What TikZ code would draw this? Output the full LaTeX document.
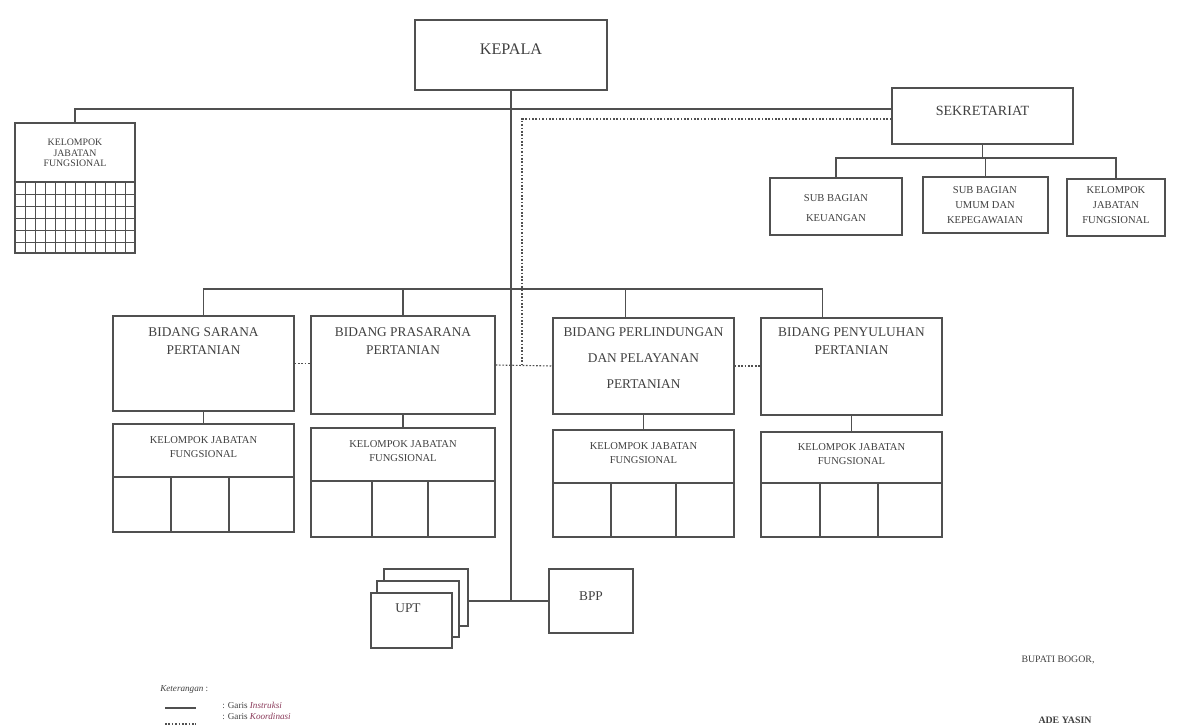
\documentclass[tikz,border=0pt]{standalone}
\usepackage{fontspec}
\setmainfont{Liberation Serif}
\usetikzlibrary{fit,positioning,calc}
\definecolor{linec}{HTML}{505050}
\definecolor{txtc}{HTML}{404040}
\definecolor{keyred}{HTML}{8A3A5A}

\begin{document}
\begin{tikzpicture}[x=0.025cm, y=-0.025cm,
    box/.style={draw=linec, line width=0.8pt, inner sep=0pt, fill=white, text=txtc, align=center},
    instr/.style={draw=linec, line width=0.8pt},
    koord/.style={draw=linec, line width=0.8pt, dash pattern=on 1.2pt off 1.2pt},
    txt/.style={text=txtc, align=center, inner sep=0pt},
    bigtxt/.style={font=\fontsize{11.5}{14}\selectfont},
    sektxt/.style={font=\fontsize{10}{12}\selectfont},
    bidtxt/.style={txt, font=\fontsize{9.5}{12.8}\selectfont},
    kjtxt/.style={font=\fontsize{7.5}{10}\selectfont},
    subtxt/.style={txt, font=\fontsize{7.5}{10.8}\selectfont},
    lefttxt/.style={txt, font=\fontsize{7}{7.4}\selectfont},
    legtxt/.style={txt, font=\fontsize{6.5}{8}\selectfont},
    signtxt/.style={txt, font=\fontsize{7}{8}\selectfont}]
    \fill[white] (0,0) rectangle (1177,728);
    \useasboundingbox (0,0) rectangle (1177,728);

    % kepala dan sekretariat
    \node[box, bigtxt, fit={(415,20) (607,90)}] (kepala) {KEPALA};
    \node[box, sektxt, fit={(892,88) (1073,144)}] (sekre) {SEKRETARIAT};
    \node[box, fit={(770,178) (902,235)}] (keu) {};
    \node[box, fit={(923,177) (1048,233)}] (umum) {};
    \node[box, fit={(1067,179) (1165,236)}] (kjfS) {};
    \node[subtxt] (keuT) at (836,208) {SUB BAGIAN\\[3pt]KEUANGAN};
    \node[subtxt] (umumT) at (985,205) {SUB BAGIAN\\UMUM DAN\\KEPEGAWAIAN};
    \node[subtxt] (kjfST) at (1116,205) {KELOMPOK\\JABATAN\\FUNGSIONAL};

    % kelompok jabatan fungsional kiri
    \node[box, fit={(15,123) (135,182)}] (kjfL) {};
    \node[lefttxt] (kjfLT) at (75,153) {KELOMPOK\\JABATAN\\FUNGSIONAL};
    \node[box, fit={(15,182) (135,253)}] (kjfLg) {};
    \foreach \gx in {25,35,...,125}
        \draw[instr, line width=0.6pt] (\gx,182) -- (\gx,253);
    \foreach \gy in {194,206,...,242}
        \draw[instr, line width=0.6pt] (15,\gy) -- (135,\gy);

    % bidang
    \node[box, fit={(113,316) (294,411)}] (sar) {};
    \node[box, fit={(311,316) (495,414)}] (pra) {};
    \node[box, fit={(553,318) (734,414)}] (per) {};
    \node[box, fit={(761,318) (942,415)}] (pen) {};
    \node[bidtxt, below=0.3cm of sar.north] (sarT) {BIDANG SARANA\\PERTANIAN};
    \node[bidtxt, below=0.3cm of pra.north] (praT) {BIDANG PRASARANA\\PERTANIAN};
    \node[bidtxt, below=0.25cm of per.north] (perT) {BIDANG PERLINDUNGAN\\[5.5pt]DAN PELAYANAN\\[5.5pt]PERTANIAN};
    \node[bidtxt, below=0.25cm of pen.north] (penT) {BIDANG PENYULUHAN\\PERTANIAN};

    \foreach \nm/\xl/\xr/\yt/\yd/\yb/\ca/\cb in
        {sar/113/294/424/477/532/171/229, pra/311/495/428/481/537/372/428,
         per/553/734/430/483/537/611/676, pen/761/942/432/483/537/820/878} {
        \node[box, kjtxt, fit={(\xl,\yt) (\xr,\yd)}] (\nm-kj) {KELOMPOK JABATAN\\FUNGSIONAL};
        \node[box, fit={(\xl,\yd) (\xr,\yb)}] (\nm-kc) {};
        \draw[instr] (\ca,\yd) -- (\ca,\yb) (\cb,\yd) -- (\cb,\yb);
    }

    % upt dan bpp
    \node[box, fit={(384,569) (468,626)}] (uptA) {};
    \node[box, fit={(377,581) (459,637)}] (uptB) {};
    \node[box, fit={(371,593) (452,648)}] (uptC) {};
    \node[bidtxt] (uptT) at (408,608) {UPT};
    \node[box, font=\fontsize{9.5}{12}\selectfont, fit={(549,569) (633,633)}] (bpp) {BPP};

    % garis instruksi
    \coordinate (topbar) at (0,109);
    \coordinate (sekbar) at (0,158);
    \coordinate (bidbar) at (0,289);
    \coordinate (perTop) at ($(per.north)+(-18,0)$);
    \coordinate (penTop) at ($(pen.north)+(-29,0)$);
    \draw[instr] (kjfL.north) |- (sekre.west |- topbar);
    \draw[instr] (kepala.south) -- (kepala.south |- bpp.west);
    \draw[instr] (uptA.east |- bpp.west) -- (bpp.west);
    \draw[instr] (sekre.south) -- (sekre.south |- sekbar);
    \draw[instr] (keu.north) |- (kjfS.north |- sekbar) -- (kjfS.north);
    \draw[instr] (umum.north) -- (umum.north |- sekbar);
    \draw[instr] (sar.north) |- (penTop |- bidbar) -- (penTop);
    \draw[instr] (pra.north) -- (pra.north |- bidbar);
    \draw[instr] (perTop) -- (perTop |- bidbar);
    \foreach \nm in {sar,pra,per,pen}
        \draw[instr] (\nm.south) -- (\nm-kj.north);

    % garis koordinasi
    \coordinate (kx) at (522,119);
    \draw[koord] (sekre.west |- kx) -- (kx) -- (kx |- per.west);
    \draw[koord] (sar.east) -- (sar.east -| pra.west);
    \draw[koord] (pra.east) -- (per.west);
    \draw[koord] (per.east) -- (per.east -| pen.west);

    % keterangan
    \node[legtxt, anchor=west] (ket) at (160,689) {\textit{Keterangan} :};
    \coordinate (ins1) at (165,708);
    \coordinate (ins2) at (196,708);
    \coordinate (kor1) at (165,724);
    \coordinate (kor2) at (196,724);
    \draw[instr] (ins1) -- (ins2);
    \draw[koord] (kor1) -- (kor2);
    \node[legtxt, anchor=west] (gi) at (222,705) {: Garis \textcolor{keyred}{\textit{Instruksi}}};
    \node[legtxt, anchor=west] (gk) at (222,716) {: Garis \textcolor{keyred}{\textit{Koordinasi}}};

    % tanda tangan
    \node[signtxt] (bupati) at (1058,660) {BUPATI BOGOR,};
    \node[signtxt, font=\bfseries\fontsize{7}{8}\selectfont] (ade) at (1065,720) {ADE YASIN};
\end{tikzpicture}
\end{document}
